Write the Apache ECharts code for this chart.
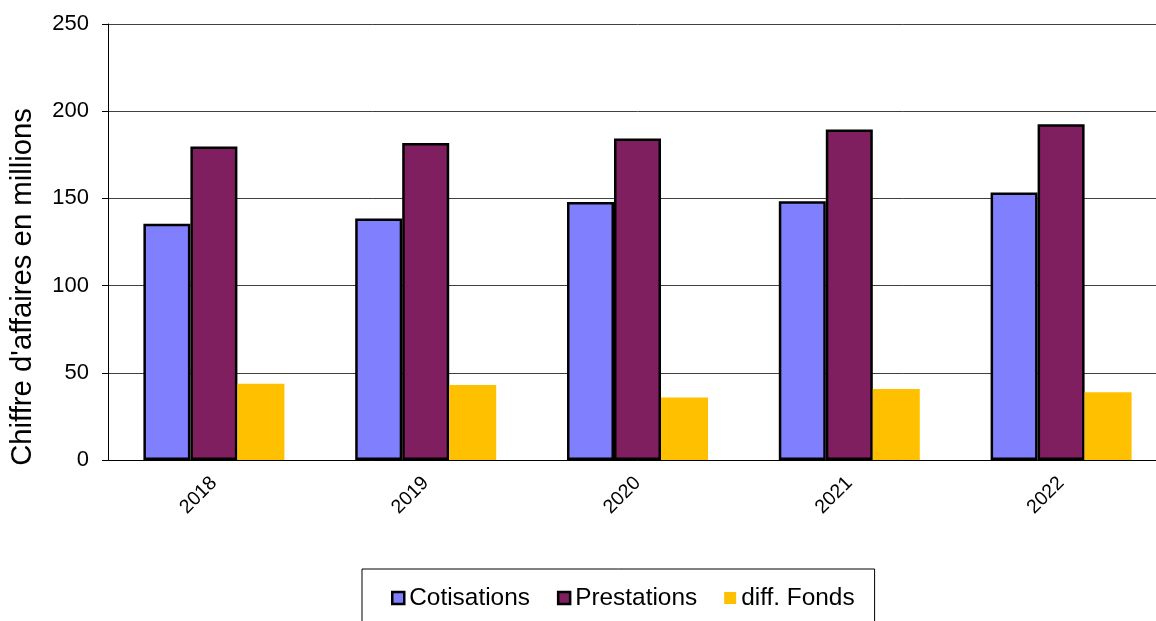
<!DOCTYPE html>
<html><head><meta charset="utf-8">
<script src="https://cdn.jsdelivr.net/npm/echarts@6/dist/echarts.min.js"></script>
<style>html,body{margin:0;padding:0;background:#fff;overflow:hidden}#c{width:1172px;height:621px}</style>
</head><body><div id="c"></div>
<script>
const years = ['2018', '2019', '2020', '2021', '2022'];
const cotisations = [135.5, 138.5, 148, 148.3, 153.4];
const prestations = [179.8, 181.8, 184.3, 189.5, 192.5];
const diffFonds = [43.7, 43.0, 35.9, 40.7, 38.8];
const yTicks = [0, 50, 100, 150, 200, 250];

const FONT = 'Liberation Sans, Arial, sans-serif';
const chart = echarts.init(document.getElementById('c'));
chart.setOption({
  animation: false,
  textStyle: { fontFamily: FONT },
  grid: { left: 108, top: 24, width: 1059, height: 436 },
  legend: {
    left: 362, top: 569,
    padding: [17, 20, 30, 29],
    borderColor: '#000', borderWidth: 1,
    itemWidth: 12, itemHeight: 12, itemGap: 27,
    textStyle: { fontSize: 24.4, color: '#000', fontFamily: FONT },
    data: [
      { name: 'Cotisations', icon: 'rect', itemStyle: { borderColor: '#000', borderWidth: 2.5 } },
      { name: 'Prestations', icon: 'rect', itemStyle: { borderColor: '#000', borderWidth: 2.5 } },
      { name: 'diff. Fonds', icon: 'rect', itemStyle: { borderWidth: 0 } }
    ]
  },
  graphic: [{
    type: 'text', left: 8, top: 108, rotation: Math.PI / 2,
    style: { text: "Chiffre d'affaires en millions", fontSize: 29.3, fill: '#000', fontFamily: FONT }
  }],
  xAxis: {
    type: 'category', data: years,
    axisLine: { lineStyle: { color: '#000', width: 1 } },
    axisTick: { length: 6, lineStyle: { color: '#000' } },
    axisLabel: { rotate: 45, fontSize: 19.5, color: '#000', margin: 20, fontFamily: FONT }
  },
  yAxis: {
    type: 'value', min: yTicks[0], max: yTicks[yTicks.length - 1], interval: 50,
    axisLine: { show: true, lineStyle: { color: '#000', width: 1 } },
    axisTick: { show: true, length: 6, lineStyle: { color: '#000' } },
    axisLabel: { fontSize: 22, color: '#000', margin: 19, fontFamily: FONT },
    splitLine: { lineStyle: { color: '#404040', width: 1 } }
  },
  series: [
    { name: 'Cotisations', type: 'bar', data: cotisations, barWidth: 47, barGap: '0%',
      itemStyle: { color: '#8080FF', borderColor: '#000', borderWidth: 2.5 } },
    { name: 'Prestations', type: 'bar', data: prestations, barWidth: 47, barGap: '0%',
      itemStyle: { color: '#7F1F5F', borderColor: '#000', borderWidth: 2.5 } },
    { name: 'diff. Fonds', type: 'bar', data: diffFonds, barWidth: 47, barGap: '0%',
      itemStyle: { color: '#FFC000', borderWidth: 0 } }
  ]
});
</script></body></html>
